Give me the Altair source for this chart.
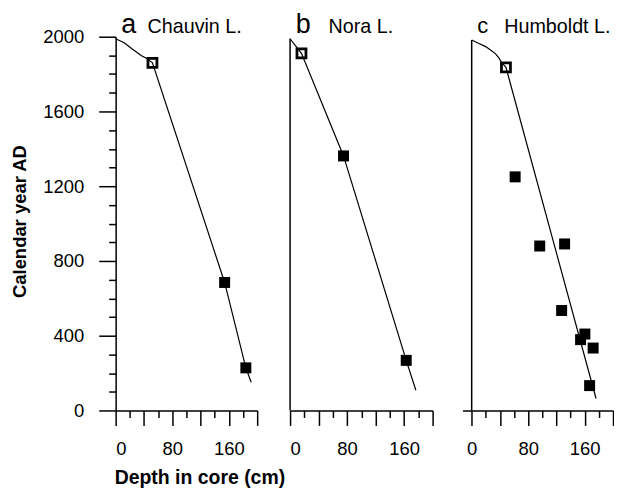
import altair as alt
import pandas as pd

FONT = "Liberation Sans"

# ---- data (depth in cm, calendar year AD) ----
# a  Chauvin L.
a_line_depth = [0, 12, 23, 36, 44, 52, 154, 184, 191.5]
a_line_year = [1989, 1968, 1936, 1899, 1883, 1860, 685, 228, 151]
a_open_depth = [52]
a_open_year = [1860]
a_fill_depth = [154, 184]
a_fill_year = [685, 228]

# b  Nora L.
b_line_depth = [0, 16, 75, 163, 176.5]
b_line_year = [1989, 1911, 1362, 268, 108]
b_open_depth = [16]
b_open_year = [1911]
b_fill_depth = [75, 163]
b_fill_year = [1362, 268]

# c  Humboldt L.
c_line_depth = [0, 10.3, 19.7, 26.7, 33.8, 38.5, 41.8, 48.5, 176]
c_line_year = [1982, 1964, 1947, 1929, 1908, 1887, 1864, 1836, 64]
c_open_depth = [48.5]
c_open_year = [1836]
c_fill_depth = [61.5, 96.3, 131.5, 127.3, 160.2, 154.1, 171.9, 166.9]
c_fill_year = [1250, 880, 891, 535, 409, 379, 334, 133]

letters = ["a", "b", "c"]
names = ["Chauvin L.", "Nora L.", "Humboldt L."]
letter_depth = [8, 8, 8]
name_depth = [45, 54, 46]
label_year = [2000, 2000, 2000]

x_major = [0, 40, 80, 120, 160, 200]
x_minor = [20, 60, 100, 140, 180]
y_major = [0, 400, 800, 1200, 1600, 2000]
y_minor = [v for v in range(100, 2000, 100) if v % 400 != 0]

AX = dict(grid=False, domainColor="black", tickColor="black", domainWidth=1.5,
          tickWidth=1.5, labelFont=FONT, labelFontSize=18.5, labelColor="black",
          format="d")


def panel(i, line_d, line_y, open_d, open_y, fill_d, fill_y, xdom, width,
          letter_size, first):
    line_df = pd.DataFrame({"depth": line_d, "year": line_y})
    open_df = pd.DataFrame({"depth": open_d, "year": open_y})
    fill_df = pd.DataFrame({"depth": fill_d, "year": fill_y})
    let_df = pd.DataFrame({"depth": [letter_depth[i]], "year": [label_year[i]],
                           "txt": [letters[i]]})
    nam_df = pd.DataFrame({"depth": [name_depth[i]], "year": [label_year[i]],
                           "txt": [names[i]]})
    rule_df = pd.DataFrame({"depth": [0], "year": [0], "year2": [line_y[0]]})

    xscale = alt.Scale(domain=xdom, nice=False, zero=False)
    yscale = alt.Scale(domain=[0, 2000], nice=False, zero=False)

    x_major_ax = alt.Axis(values=x_major, orient="bottom", tickSize=15, labelPadding=14,
                          labelExpr="datum.value % 80 === 0 ? datum.label : ''",
                          title="", **AX)
    x_minor_ax = alt.Axis(values=x_minor, orient="bottom", tickSize=7, labels=False,
                          domain=False, title="", **AX)
    if first:
        y_major_ax = alt.Axis(values=y_major, orient="left", tickSize=17, labelPadding=15,
                              title="Calendar year AD", titleFont=FONT, titleFontSize=18.5,
                              titleFontWeight="bold", titleColor="black",
                              titleX=-90, titleY=185, titleBaseline="alphabetic", **AX)
        y_minor_ax = alt.Axis(values=y_minor, orient="left", tickSize=7, labels=False,
                              domain=False, title="", **AX)
    else:
        y_major_ax = None
        y_minor_ax = None

    def enc(xa, ya):
        return dict(x=alt.X("depth:Q", scale=xscale, axis=xa),
                    y=alt.Y("year:Q", scale=yscale, axis=ya))

    line = alt.Chart(line_df).mark_line(color="black", strokeWidth=1.2).encode(
        **enc(x_major_ax, y_major_ax))
    fills = alt.Chart(fill_df).mark_point(
        shape="square", filled=True, color="black", size=121, opacity=1
    ).encode(**enc(x_minor_ax, y_minor_ax))
    opens = alt.Chart(open_df).mark_point(
        shape="square", filled=False, color="black", size=81, strokeWidth=2.8, opacity=1
    ).encode(**enc(None, None))
    letter = alt.Chart(let_df).mark_text(
        font=FONT, fontSize=letter_size, align="left", baseline="alphabetic", dy=-4, color="black"
    ).encode(text="txt:N", **enc(None, None))
    name = alt.Chart(nam_df).mark_text(
        font=FONT, fontSize=19.8, align="left", baseline="alphabetic", dy=-4, color="black"
    ).encode(text="txt:N", **enc(None, None))

    layers = [line, fills, opens, letter, name]
    if not first:
        rule = alt.Chart(rule_df).mark_rule(color="black", strokeWidth=1.5).encode(
            y2="year2:Q", **enc(None, None))
        layers = layers + [rule]
    return alt.layer(*layers).resolve_axis(x="independent", y="independent").properties(
        width=width, height=375)


pa = panel(0, a_line_depth, a_line_year, a_open_depth, a_open_year,
           a_fill_depth, a_fill_year, [0, 200], 142, 27, True)
pb = panel(1, b_line_depth, b_line_year, b_open_depth, b_open_year,
           b_fill_depth, b_fill_year, [0, 200], 143, 27, False)
pc = panel(2, c_line_depth, c_line_year, c_open_depth, c_open_year,
           c_fill_depth, c_fill_year, [-13, 200], 151, 22, False)

chart = alt.hconcat(pa, pb, pc, spacing=29).properties(
    title=alt.TitleParams("Depth in core (cm)", orient="bottom", anchor="start",
                          frame="bounds", dx=104, offset=11, font=FONT, fontSize=19.5,
                          fontWeight="bold", color="black"),
    padding={"left": 3, "top": 2, "right": 0, "bottom": 0},
    background="white",
).configure_view(stroke=None)

chart.save("out.html", embed_options={"renderer": "svg", "actions": False})
